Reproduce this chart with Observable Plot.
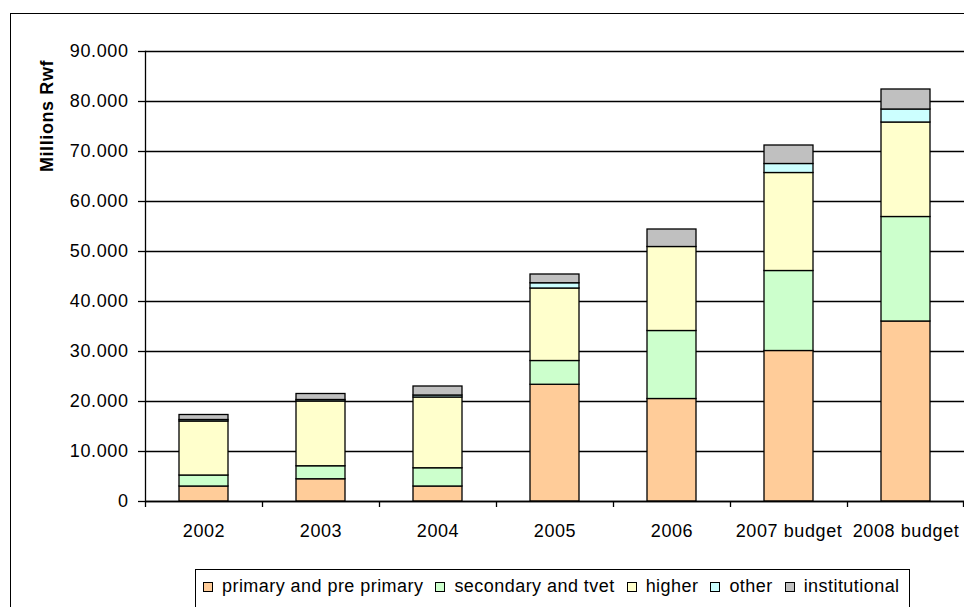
<!DOCTYPE html>
<html>
<head>
<meta charset="utf-8">
<script src="https://cdn.jsdelivr.net/npm/d3@7"></script>
<script src="https://cdn.jsdelivr.net/npm/@observablehq/plot@0.6"></script>
<style>
  html, body { margin: 0; padding: 0; background: #fff; }
  body { width: 964px; height: 607px; overflow: hidden; position: relative; font-family: "Liberation Sans", Arial, sans-serif; }
  #border { position: absolute; left: 10px; top: 13px; width: 1000px; height: 700px; border: 1.5px solid #000; box-sizing: border-box; }
  #chart { position: absolute; left: 0; top: 0; }
  #ylabel { position: absolute; left: 46.5px; top: 116px; transform: translate(-50%, -50%) rotate(-90deg); font-weight: bold; font-size: 18px; letter-spacing: 0.6px; white-space: nowrap; }
  #legend { position: absolute; left: 195px; top: 569px; width: 715px; height: 60px; border: 1.5px solid #000; box-sizing: border-box; display: flex; align-items: flex-start; padding: 6px 0 0 7px; font-size: 18px; letter-spacing: 0.45px; white-space: nowrap; }
  .item { display: flex; align-items: center; margin-right: 12px; }
  .sw { width: 10px; height: 10px; border: 1px solid #000; box-sizing: border-box; margin-right: 9px; flex: none; }
  svg text { letter-spacing: 0.6px; }
</style>
</head>
<body>
<div id="border"></div>
<div id="chart"></div>
<div id="ylabel">Millions Rwf</div>
<div id="legend"></div>
<script>
const years = ["2002", "2003", "2004", "2005", "2006", "2007 budget", "2008 budget"];
const seriesNames = ["primary and pre primary", "secondary and tvet", "higher", "other", "institutional"];
const seriesColors = ["#FFCC99", "#CCFFCC", "#FFFFCC", "#CCFFFF", "#C0C0C0"];
const primary       = [3000, 4450, 3000, 23350, 20500, 30100, 36000];
const secondary     = [2200, 2600, 3650, 4750, 13600, 16000, 20900];
const higher        = [10800, 12950, 14150, 14500, 16800, 19600, 18900];
const other         = [300, 300, 400, 1050, 0, 1800, 2600];
const institutional = [1000, 1200, 1800, 1750, 3500, 3700, 4000];
const yTicks = [0, 10000, 20000, 30000, 40000, 50000, 60000, 70000, 80000, 90000];

const seriesValues = [primary, secondary, higher, other, institutional];
const data = [];
years.forEach((yr, i) => {
  seriesNames.forEach((s, j) => data.push({year: yr, series: s, value: seriesValues[j][i]}));
});

const locale = d3.formatLocale({decimal: ",", thousands: ".", grouping: [3], currency: ["", ""]});
const fmt = locale.format(",.0f");

const chart = Plot.plot({
  width: 964,
  height: 560,
  marginLeft: 145,
  marginRight: 0,
  marginTop: 51,
  marginBottom: 59,
  style: {fontSize: "18px", fontFamily: "Liberation Sans, Arial, sans-serif", background: "transparent", color: "#000"},
  x: {domain: years, padding: 0, label: null},
  y: {domain: [0, 90000], label: null},
  color: {domain: seriesNames, range: seriesColors},
  marks: [
    Plot.gridY(yTicks, {stroke: "#000", strokeOpacity: 1, strokeWidth: 1.3}),
    Plot.barY(data, {x: "year", y: "value", fill: "series", stroke: "#000", strokeWidth: 1.3, insetLeft: 34, insetRight: 34}),
    Plot.frame({anchor: "left", stroke: "#000", strokeWidth: 1.3}),
    Plot.ruleY([0], {stroke: "#000", strokeWidth: 1.5}),
    Plot.axisY({ticks: yTicks, tickSize: 7, tickPadding: 10, tickFormat: fmt, label: null, strokeWidth: 1.3}),
    Plot.axisX({tickSize: 0, tickPadding: 23, label: null}),
    Plot.axisX({tickSize: 6, tickFormat: () => "", dx: -58.5, label: null, strokeWidth: 1.3}),
    Plot.axisX({ticks: [years[years.length - 1]], tickSize: 6, tickFormat: () => "", dx: 57.5, label: null, strokeWidth: 1.3})
  ]
});
document.getElementById("chart").appendChild(chart);

const legend = document.getElementById("legend");
seriesNames.forEach((s, j) => {
  const item = document.createElement("div");
  item.className = "item";
  const sw = document.createElement("div");
  sw.className = "sw";
  sw.style.background = seriesColors[j];
  const t = document.createElement("span");
  t.textContent = s;
  item.appendChild(sw);
  item.appendChild(t);
  legend.appendChild(item);
});
</script>
</body>
</html>
